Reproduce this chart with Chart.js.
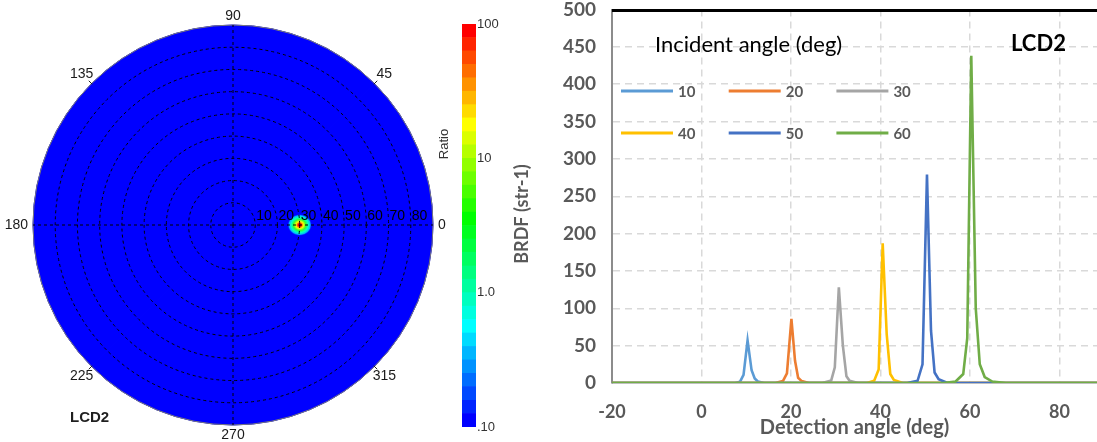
<!DOCTYPE html>
<html><head><meta charset="utf-8">
<script src="https://cdn.jsdelivr.net/npm/chart.js@4.4.0/dist/chart.umd.min.js"></script>
<style>
html,body{margin:0;padding:0;background:#fff;overflow:hidden;width:1097px;height:442px;}
canvas{position:absolute;top:0;}
#polar{left:0;} #cbar{left:455px;} #line{left:480px;}
</style></head><body>
<canvas id="polar" width="470" height="442"></canvas>
<canvas id="cbar" width="60" height="442"></canvas>
<canvas id="line" width="617" height="442"></canvas>
<script>
// ---------- polar map data ----------
const polarDirections = ['90', '45', '0', '315', '270', '225', '180', '135'];
const polarDiscExtent = [90, 90, 90, 90, 90, 90, 90, 90];   // detection polar angle reached in every sector
const polarRingTicks = [10, 20, 30, 40, 50, 60, 70, 80];
const hotspotDirection = '0';
const hotspotPolarAngle = 30;
const polarTitle = 'LCD2';
const colorbarTitle = 'Ratio';

// ---------- colour bar data ----------
const colorLevels = [0.1, 0.126, 0.158, 0.2, 0.251, 0.316, 0.398, 0.501, 0.631, 0.794,
  1, 1.26, 1.58, 2, 2.51, 3.16, 3.98, 5.01, 6.31, 7.94,
  10, 12.6, 15.8, 20, 25.1, 31.6, 39.8, 50.1, 63.1, 79.4, 100];
const colorLevelColors = ['#0000FF', '#0024FF', '#0049FF', '#006DFF', '#0092FF', '#00B6FF', '#00DBFF', '#00FFFF',
  '#00FFDF', '#00FFBF', '#00FF9F', '#00FF80', '#00FF60', '#00FF40', '#00FF20', '#00FF00',
  '#24FF00', '#49FF00', '#6DFF00', '#92FF00', '#B6FF00', '#DBFF00', '#FFFF00',
  '#FFDB00', '#FFB600', '#FF9200', '#FF6D00', '#FF4900', '#FF2400', '#FF0000'];
const colorbarTicks = [0.1, 1, 10, 100];
const colorbarTickLabels = ['.10', '1.0', '10', '100'];

// ---------- BRDF line chart data ----------
const incidentAngles = ['10', '20', '30', '40', '50', '60'];
const seriesColors = ['#5B9BD5', '#ED7D31', '#A5A5A5', '#FFC000', '#4472C4', '#70AD47'];
const detAngles10 = [-20, 7.5, 8.6, 9.4, 10.3, 11.2, 11.9, 12.6, 14, 100];
const brdf10      = [0, 0, 1.5, 11, 57, 17, 6, 2, 0, 0];
const detAngles20 = [-20, 16.5, 18.2, 19.1, 20.1, 20.9, 21.6, 22.4, 24, 100];
const brdf20      = [0, 0, 2.5, 13, 86, 30, 7, 2.5, 0, 0];
const detAngles30 = [-20, 27, 29.0, 29.8, 30.7, 31.6, 32.4, 33.1, 35, 100];
const brdf30      = [0, 0, 3.5, 21, 128, 50, 9, 3, 0, 0];
const detAngles40 = [-20, 37, 38.6, 39.6, 40.5, 41.4, 42.2, 43.0, 45, 100];
const brdf40      = [0, 0, 3, 18, 187, 65, 12, 4, 0, 0];
const detAngles50 = [-20, 46, 48.3, 49.4, 50.4, 51.3, 52.1, 53.0, 55, 100];
const brdf50      = [0, 0, 3, 25, 279, 70, 14, 5, 0, 0];
const detAngles60 = [-20, 54, 56.8, 58.5, 59.4, 60.3, 61.3, 62.2, 63.3, 65, 68, 100];
const brdf60      = [0, 0, 2, 12, 60, 438, 100, 25, 8, 2, 0, 0];
const xTickValues = [-20, 0, 20, 40, 60, 80];
const yTickValues = [0, 50, 100, 150, 200, 250, 300, 350, 400, 450, 500];
const xAxisTitle = 'Detection angle (deg)';
const yAxisTitle = 'BRDF (str-1)';
const legendTitle = 'Incident angle (deg)';
const lineTitle = 'LCD2';

const seriesAngles = [detAngles10, detAngles20, detAngles30, detAngles40, detAngles50, detAngles60];
const seriesValues = [brdf10, brdf20, brdf30, brdf40, brdf50, brdf60];

// ================= polar chart =================
const polarDecor = {
  id: 'polarDecor',
  afterDatasetsDraw(chart) {
    const s = chart.scales.r, ctx = chart.ctx;
    const idx = polarDirections.indexOf(hotspotDirection);
    const p = s.getPointPosition(idx, s.getDistanceFromCenterForValue(hotspotPolarAngle));
    ctx.save();
    ctx.translate(p.x, p.y);
    ctx.scale(1.12, 1);
    const g = ctx.createRadialGradient(0, 0, 0, 0, 0, 11);
    g.addColorStop(0, '#8b0000');
    g.addColorStop(0.12, '#ff0000');
    g.addColorStop(0.3, '#ffff00');
    g.addColorStop(0.5, '#30ff30');
    g.addColorStop(0.7, '#00ffc8');
    g.addColorStop(0.86, '#00b0ff');
    g.addColorStop(1, 'rgba(0,0,255,0)');
    ctx.fillStyle = g;
    ctx.beginPath(); ctx.arc(0, 0, 11, 0, Math.PI * 2); ctx.fill();
    ctx.restore();
  },
  afterDraw(chart) {
    const s = chart.scales.r, ctx = chart.ctx;
    const R = s.drawingArea;
    ctx.save();
    ctx.fillStyle = '#1a1a1a';
    ctx.font = '14px "Liberation Sans", Arial, sans-serif';
    // direction labels
    polarDirections.forEach((lab, i) => {
      const diag = i % 2 === 1;
      const p = s.getPointPosition(i, R + (diag ? 14 : 5));
      let align = 'center', base = 'middle';
      if (i === 0) base = 'bottom';
      if (i === 4) base = 'top';
      if (i === 2) align = 'left';
      if (i === 6) align = 'right';
      ctx.textAlign = align; ctx.textBaseline = base;
      ctx.fillText(lab, p.x, p.y + (i === 0 ? 3 : 0) + (i === 4 ? -2 : 0));
      if (diag) {
        const a = s.getPointPosition(i, R - 1), b = s.getPointPosition(i, R + 4);
        ctx.strokeStyle = '#222'; ctx.lineWidth = 1;
        ctx.beginPath(); ctx.moveTo(a.x, a.y); ctx.lineTo(b.x, b.y); ctx.stroke();
      }
    });
    // radial ticks along 0 direction
    ctx.fillStyle = '#000';
    ctx.textAlign = 'left'; ctx.textBaseline = 'middle';
    polarRingTicks.forEach(v => {
      const d = s.getDistanceFromCenterForValue(v);
      ctx.fillText(String(v), s.xCenter + d + 1, s.yCenter - 9);
    });
    // title
    ctx.font = 'bold 15px "Liberation Sans", Arial, sans-serif';
    ctx.fillStyle = '#1f1f1f';
    ctx.textAlign = 'left'; ctx.textBaseline = 'middle';
    ctx.fillText(polarTitle, 70, 418);
    // colour bar title
    ctx.font = '13px "Liberation Sans", Arial, sans-serif';
    ctx.fillStyle = '#333';
    ctx.translate(444, 144); ctx.rotate(-Math.PI / 2);
    ctx.textAlign = 'center';
    ctx.fillText(colorbarTitle, 0, 0);
    ctx.restore();
  }
};

new Chart(document.getElementById('polar'), {
  type: 'polarArea',
  data: {
    labels: polarDirections,
    datasets: [{
      data: polarDiscExtent,
      backgroundColor: colorLevelColors[0],
      borderColor: colorLevelColors[0],
      borderWidth: 1
    }]
  },
  options: {
    responsive: false, animation: false,
    layout: { padding: { left: 33, top: 25, right: 37, bottom: 17 } },
    plugins: { legend: { display: false }, tooltip: { enabled: false } },
    scales: {
      r: {
        min: 0, max: 90,
        ticks: { display: false, stepSize: 10, z: 1 },
        grid: {
          z: 1, circular: true, lineWidth: 1,
          color: (c) => (c.tick && c.tick.value === 90) ? '#7a7a7a' : '#000'
        },
        border: { dash: (c) => (c.tick && c.tick.value === 90) ? [] : [3, 3] },
        angleLines: {
          display: true, lineWidth: 1, borderDash: [3, 3],
          color: (c) => (c.index % 2 === 0) ? '#000' : 'rgba(0,0,0,0)'
        },
        pointLabels: { display: false }
      }
    }
  },
  plugins: [polarDecor]
});

// ================= colour bar =================
new Chart(document.getElementById('cbar'), {
  type: 'bar',
  data: {
    labels: [colorbarTitle],
    datasets: colorLevelColors.map((c, i) => ({
      data: [[colorLevels[i], colorLevels[i + 1]]],
      backgroundColor: c, borderWidth: 0, grouped: false,
      barPercentage: 1, categoryPercentage: 1
    }))
  },
  options: {
    responsive: false, animation: false,
    layout: { padding: { left: 7, top: 24, right: 0, bottom: 15 } },
    plugins: { legend: { display: false }, tooltip: { enabled: false } },
    scales: {
      x: { display: false },
      y: {
        type: 'logarithmic', position: 'right', min: 0.1, max: 100,
        grid: { display: false, drawTicks: false },
        border: { display: false },
        afterBuildTicks: (sc) => { sc.ticks = colorbarTicks.map(v => ({ value: v })); },
        afterFit: (sc) => { sc.width = 39; },
        ticks: {
          padding: 1, color: '#333',
          font: { family: '"Liberation Sans", Arial, sans-serif', size: 13, lineHeight: 1 },
          callback: (v) => { const k = colorbarTicks.indexOf(v); return k >= 0 ? colorbarTickLabels[k] : ''; }
        }
      }
    }
  }
});

// ================= BRDF line chart =================
const lineDecor = {
  id: 'lineDecor',
  afterDraw(chart) {
    const ctx = chart.ctx;
    const ys = chart.scales.y, a = chart.chartArea;
    ctx.save();
    // solid frame line along the top of the plot (value 500)
    const yTop = Math.round(ys.getPixelForValue(yTickValues[yTickValues.length - 1])) + 0.5;
    ctx.strokeStyle = '#000000'; ctx.lineWidth = 3; ctx.setLineDash([]);
    ctx.beginPath(); ctx.moveTo(a.left, yTop); ctx.lineTo(a.right, yTop); ctx.stroke();
    // y axis title
    ctx.save();
    ctx.translate(42, 214); ctx.rotate(-Math.PI / 2);
    ctx.font = 'bold 18px Lato, sans-serif';
    ctx.fillStyle = '#595959'; ctx.textAlign = 'center'; ctx.textBaseline = 'middle';
    ctx.fillText(yAxisTitle, 0, 0);
    ctx.restore();
    // text annotations
    ctx.font = '22px Lato, sans-serif';
    ctx.fillStyle = '#000'; ctx.textAlign = 'left'; ctx.textBaseline = 'middle';
    ctx.fillText(legendTitle, 175, 45);
    ctx.font = 'bold 22px Lato, sans-serif';
    ctx.fillText(lineTitle, 531, 44);
    // legend
    ctx.font = 'bold 15px Lato, sans-serif';
    ctx.fillStyle = '#595959';
    chart.data.datasets.forEach((ds, i) => {
      const col = i % 3, row = Math.floor(i / 3);
      const x = 141 + col * 107.7, y = 91 + row * 42;
      ctx.strokeStyle = ds.borderColor; ctx.lineWidth = 3; ctx.lineCap = 'butt';
      ctx.beginPath(); ctx.moveTo(x, y); ctx.lineTo(x + 52, y); ctx.stroke();
      ctx.fillText(ds.label, x + 57, y + 1);
    });
    ctx.restore();
  }
};

new Chart(document.getElementById('line'), {
  type: 'line',
  data: {
    datasets: incidentAngles.map((lab, i) => ({
      label: lab,
      data: seriesAngles[i].map((a, k) => ({ x: a, y: seriesValues[i][k] })),
      borderColor: seriesColors[i], backgroundColor: seriesColors[i],
      borderWidth: 2.6, pointRadius: 0, tension: 0, fill: false,
      order: incidentAngles.length - i
    }))
  },
  options: {
    responsive: false, animation: false,
    layout: { padding: { left: 0, top: 9, right: 0, bottom: 0 } },
    plugins: { legend: { display: false }, tooltip: { enabled: false } },
    scales: {
      x: {
        type: 'linear', min: -20, max: 88.4,
        afterBuildTicks: (sc) => { sc.ticks = xTickValues.map(v => ({ value: v })); },
        afterFit: (sc) => { sc.height = 59; },
        grid: {
          drawTicks: true, tickLength: 18, tickColor: 'rgba(0,0,0,0)', lineWidth: 1.5,
          color: (c) => (c.tick && c.tick.value === -20) ? 'rgba(0,0,0,0)' : '#d9d9d9'
        },
        border: { display: true, color: '#bfbfbf', width: 1, dash: [7, 5] },
        ticks: {
          padding: 0, color: '#595959',
          font: { family: 'Lato, sans-serif', size: 18, weight: 'bold', lineHeight: 1.2 }
        },
        title: {
          display: true, text: xAxisTitle, color: '#595959',
          font: { family: 'Lato, sans-serif', size: 20, weight: 'bold', lineHeight: 1.2 },
          padding: { top: 0, bottom: 2 }
        }
      },
      y: {
        min: 0, max: 500,
        afterBuildTicks: (sc) => { sc.ticks = yTickValues.map(v => ({ value: v })); },
        afterFit: (sc) => { sc.width = 132; },
        grid: {
          drawTicks: true, tickLength: 16, tickColor: 'rgba(0,0,0,0)',
          lineWidth: 1.5,
          color: (c) => (c.tick && (c.tick.value === 0 || c.tick.value === 500)) ? 'rgba(0,0,0,0)' : '#d9d9d9'
        },
        border: {
          display: true, color: '#8c8c8c', width: 2, dash: [7, 5]
        },
        ticks: {
          padding: 0, color: '#595959',
          font: { family: 'Lato, sans-serif', size: 19, weight: 'bold', lineHeight: 1 }
        }
      }
    }
  },
  plugins: [lineDecor]
});
</script>
</body></html>
